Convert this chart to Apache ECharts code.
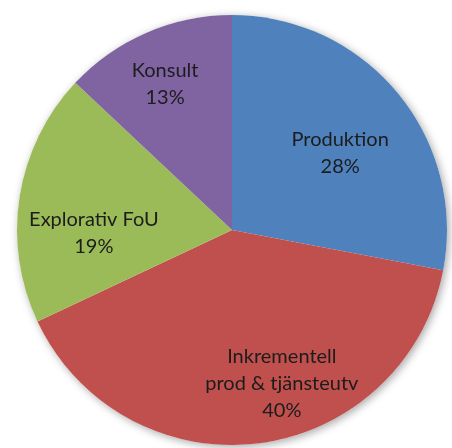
<!DOCTYPE html>
<html>
<head>
<meta charset="utf-8">
<style>
  html, body { margin: 0; padding: 0; background: #ffffff; }
  #chart { width: 452px; height: 448px; }
</style>
<script src="https://cdn.jsdelivr.net/npm/echarts@6/dist/echarts.min.js"></script>
</head>
<body>
<div id="chart"></div>
<script>
// Share of effort per activity type (percent)
const categories = ['Produktion', 'Inkrementell\nprod & tjänsteutv', 'Explorativ FoU', 'Konsult'];
const values = [28, 40, 19, 13];

// Presentation settings per slice
const sliceColors = ['#4F81BD', '#C0504D', '#9BBB59', '#8064A2'];
const labelOffsets = [[23, -7], [36, 44], [-29, 20], [-23, -45]];

const center = ['232px', '230px'];
const radius = 215;

const chart = echarts.init(document.getElementById('chart'), null, { renderer: 'canvas' });

chart.setOption({
  animation: false,
  backgroundColor: '#ffffff',
  series: [
    {
      // soft drop shadow under the whole disc
      type: 'pie',
      silent: true,
      center: center,
      radius: [0, radius],
      label: { show: false },
      labelLine: { show: false },
      itemStyle: {
        color: '#ffffff',
        shadowBlur: 8,
        shadowOffsetX: 2,
        shadowOffsetY: 2,
        shadowColor: 'rgba(0,0,0,0.35)'
      },
      data: [{ value: 1 }]
    },
    {
      type: 'pie',
      center: center,
      radius: [0, radius],
      startAngle: 90,
      clockwise: true,
      avoidLabelOverlap: false,
      itemStyle: { borderWidth: 0 },
      label: {
        show: true,
        position: 'inside',
        fontFamily: 'Lato',
        fontSize: 20,
        lineHeight: 27,
        color: '#1c1c1c',
        align: 'center',
        formatter: p => p.name + '\n' + p.value + '%'
      },
      labelLine: { show: false },
      data: categories.map((name, i) => ({
        name: name,
        value: values[i],
        itemStyle: { color: sliceColors[i] },
        label: { offset: labelOffsets[i] }
      }))
    }
  ]
});
</script>
</body>
</html>
